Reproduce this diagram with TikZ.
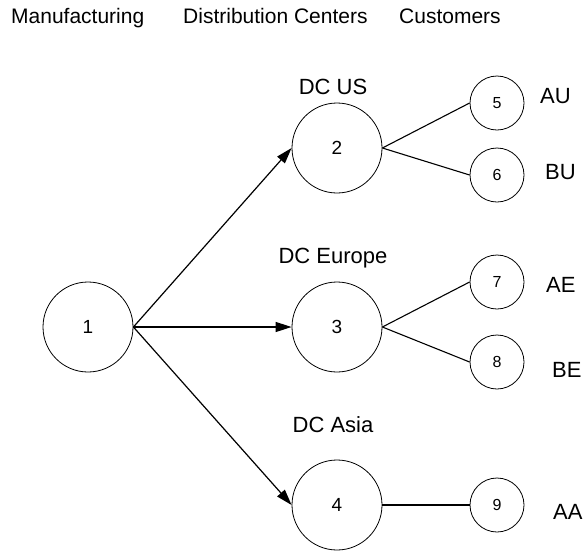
\documentclass[tikz,border=0pt]{standalone}
\usepackage{fontspec}
\setmainfont{Liberation Sans}
\usepackage{tikz}
\usetikzlibrary{arrows.meta}

\tikzset{
  bignode/.style={draw, circle, minimum size=90pt, inner sep=0pt, line width=0.8pt, font=\fontsize{19}{19}\selectfont},
  smallnode/.style={draw, circle, minimum size=54pt, inner sep=0pt, line width=0.8pt, font=\fontsize{16}{16}\selectfont},
  head/.style={font=\fontsize{21}{21}\selectfont, inner sep=0pt, anchor=base west},
  dclabel/.style={font=\fontsize{22}{22}\selectfont, inner sep=0pt, anchor=base},
  custlabel/.style={font=\fontsize{22}{22}\selectfont, inner sep=0pt, anchor=base west},
  flow/.style={line width=1.2pt, -{Triangle[length=16pt,width=10pt]}},
  link/.style={line width=1.1pt}
}

\begin{document}
\begin{tikzpicture}[x=1pt, y=-1pt]
		\useasboundingbox (0,0) rectangle (587,550);

		% column titles
		\node[head] (TM) at (11,23) {Manufacturing};
		\node[head] (TD) at (183,23) {Distribution Centers};
		\node[head] (TC) at (399,23) {Customers};

		% plant, centers, customers
		\node[bignode] (N1) at (88,327) {1};
		\node[bignode] (N2) at (337,148) {2};
		\node[bignode] (N3) at (337,327) {3};
		\node[bignode] (N4) at (337,505) {4};
		\node[smallnode] (N5) at (497,103) {5};
		\node[smallnode] (N6) at (497,175) {6};
		\node[smallnode] (N7) at (497,282) {7};
		\node[smallnode] (N8) at (497,362) {8};
		\node[smallnode] (N9) at (497,505) {9};

		\node[dclabel] (L2) at (333,94) {DC US};
		\node[dclabel] (L3) at (333,263) {DC Europe};
		\node[dclabel] (L4) at (333,432) {DC Asia};

		\node[custlabel] (L5) at (540,103) {AU};
		\node[custlabel] (L6) at (545,179) {BU};
		\node[custlabel] (L7) at (546,292) {AE};
		\node[custlabel] (L8) at (552,377) {BE};
		\node[custlabel] (L9) at (553,519) {AA};

		\draw[flow] (N1.east) -- (N2.west);
		\draw[flow] (N1.east) -- (N3.west);
		\draw[flow] (N1.east) -- (N4.west);

		\draw[link] (N2.east) -- (N5.west);
		\draw[link] (N2.east) -- (N6.west);
		\draw[link] (N3.east) -- (N7.west);
		\draw[link] (N3.east) -- (N8.west);
		\draw[link] (N4.east) -- (N9.west);
\end{tikzpicture}
\end{document}
